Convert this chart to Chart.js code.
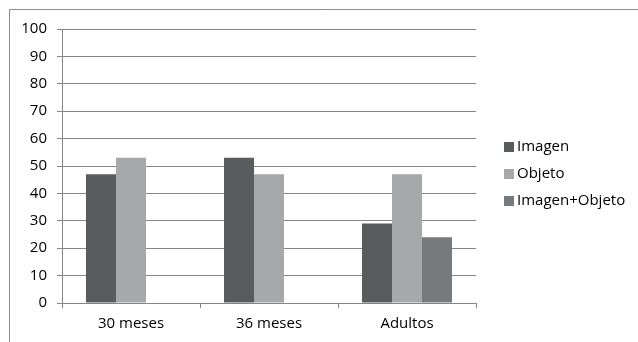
<!DOCTYPE html>
<html>
<head>
<meta charset="utf-8">
<script src="https://cdn.jsdelivr.net/npm/chart.js@4/dist/chart.umd.min.js"></script>
<style>
  html, body { margin: 0; padding: 0; background: #fff; }
  #wrap { position: relative; width: 638px; height: 342px; }
</style>
</head>
<body>
<div id="wrap"><canvas id="c" width="638" height="342"></canvas></div>
<script>
const categories = ['30 meses', '36 meses', 'Adultos'];
const imagen = [47, 53, 29];
const objeto = [53, 47, 47];
const imagenObjeto = [null, null, 24];
const yTicks = [0, 10, 20, 30, 40, 50, 60, 70, 80, 90, 100];

const FONT = '"Open Sans", "Liberation Sans", sans-serif';
const GRID = '#868686';
const TEXT = '#000';

// Frame around the chart and a vertical legend on the right
const framePlugin = {
  id: 'frame',
  beforeDraw(chart) {
    const ctx = chart.ctx;
    ctx.save();
    ctx.strokeStyle = '#8c8c8c';
    ctx.lineWidth = 1;
    ctx.beginPath();
    ctx.moveTo(9.5, 345);
    ctx.lineTo(9.5, 9.5);
    ctx.lineTo(640, 9.5);
    ctx.stroke();
    ctx.restore();
  },
  afterDraw(chart) {
    const ctx = chart.ctx;
    ctx.save();
    ctx.font = '15px ' + FONT;
    ctx.textBaseline = 'middle';
    ctx.textAlign = 'left';
    chart.data.datasets.forEach((ds, i) => {
      const y = 147 + i * 27;
      ctx.fillStyle = ds.backgroundColor;
      ctx.fillRect(504, y - 5, 10, 10);
      ctx.fillStyle = TEXT;
      ctx.fillText(ds.label, 517, y);
    });
    ctx.restore();
  }
};

new Chart(document.getElementById('c'), {
  type: 'bar',
  data: {
    labels: categories,
    datasets: [
      { label: 'Imagen', data: imagen, backgroundColor: '#585c5d' },
      { label: 'Objeto', data: objeto, backgroundColor: '#a6a9a9' },
      { label: 'Imagen+Objeto', data: imagenObjeto, backgroundColor: '#777a7d' }
    ]
  },
  options: {
    responsive: false,
    animation: false,
    devicePixelRatio: 1,
    layout: { padding: { left: 0, top: 29, right: 162, bottom: 0 } },
    datasets: { bar: { barPercentage: 1, categoryPercentage: 0.652, borderWidth: 0 } },
    plugins: { legend: { display: false }, tooltip: { enabled: false } },
    scales: {
      x: {
        grid: { display: true, offset: true, drawOnChartArea: false, drawTicks: true, tickLength: 5, color: GRID },
        border: { display: true, color: GRID },
        ticks: { color: TEXT, font: { family: FONT, size: 15 }, padding: 7 },
        afterFit(s) { s.height = 39; }
      },
      y: {
        min: 0, max: 100,
        afterBuildTicks(s) { s.ticks = yTicks.map(v => ({ value: v })); },
        grid: { color: GRID, drawTicks: true, tickLength: 5 },
        border: { display: true, color: GRID },
        ticks: { color: TEXT, font: { family: FONT, size: 15 }, padding: 10 },
        afterFit(s) { s.width = 62; }
      }
    }
  },
  plugins: [framePlugin]
});
</script>
</body>
</html>
